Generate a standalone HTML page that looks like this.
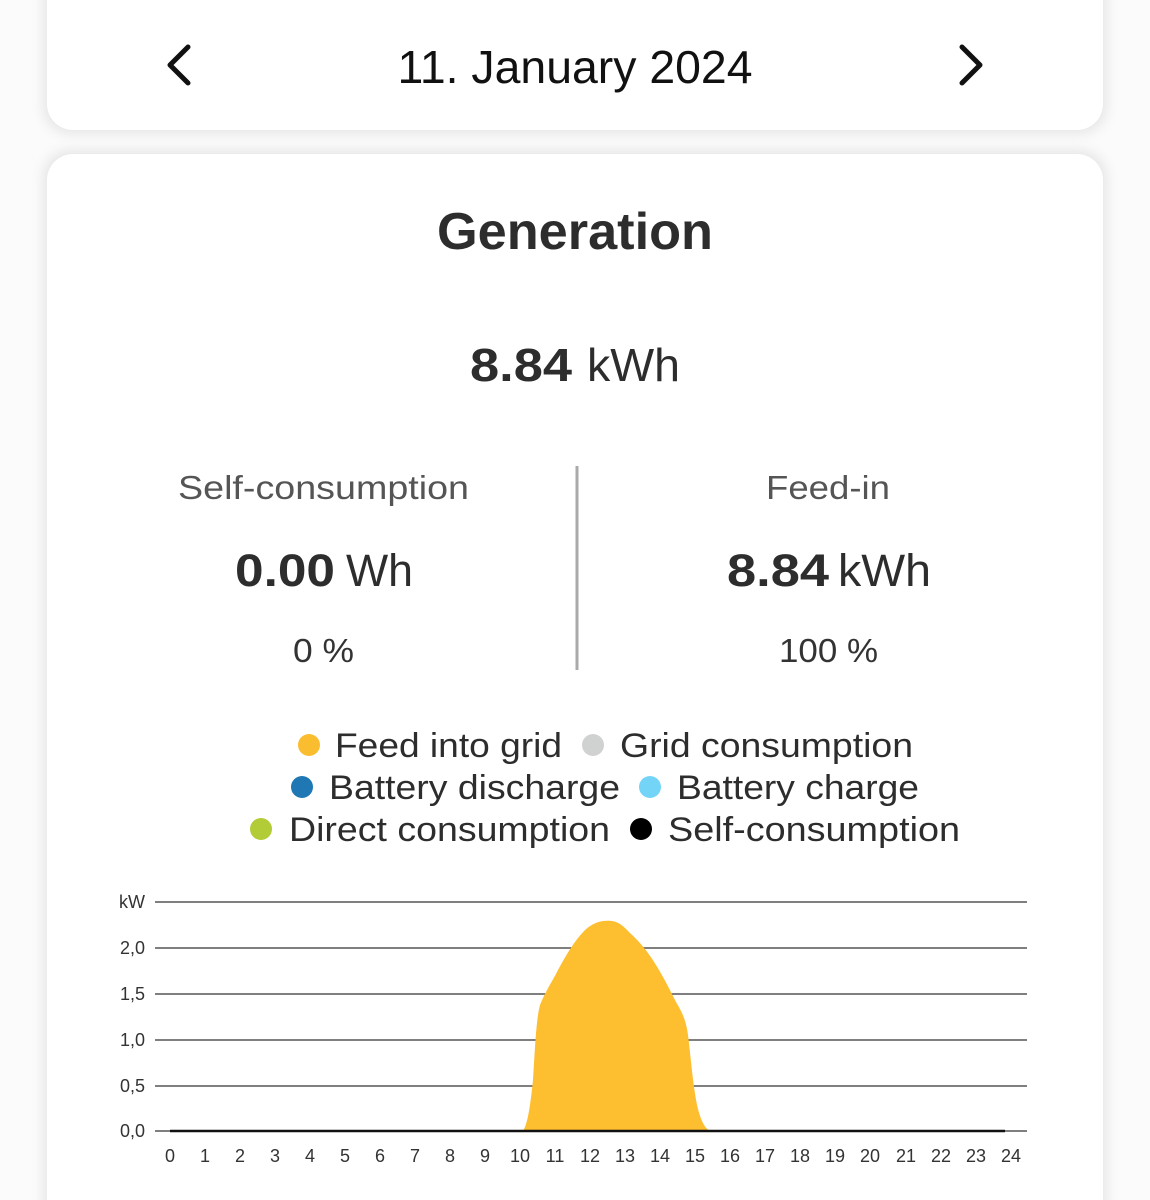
<!DOCTYPE html>
<html><head><meta charset="utf-8"><style>
html,body{margin:0;padding:0;background:#f5f5f5;width:1150px;height:1200px;overflow:hidden}
svg{display:block}
text{font-family:"Liberation Sans",sans-serif}
</style></head><body>
<svg width="1150" height="1200" viewBox="0 0 1150 1200" xmlns="http://www.w3.org/2000/svg">
<defs>
<filter id="sh" x="-5%" y="-5%" width="110%" height="110%"><feGaussianBlur stdDeviation="6"/></filter>
</defs>
<rect x="0" y="0" width="1150" height="1200" fill="#fbfbfb"/>
<rect x="43" y="-40" width="1064" height="174" rx="28" fill="#e6e6e6" filter="url(#sh)"/>
<rect x="43" y="150" width="1064" height="1100" rx="28" fill="#e6e6e6" filter="url(#sh)"/>
<rect x="47" y="-40" width="1056" height="170" rx="26" fill="#fff"/>
<rect x="47" y="154" width="1056" height="1100" rx="26" fill="#fff"/>

<polyline points="188,47 170,65 188,83" fill="none" stroke="#111" stroke-width="5" stroke-linecap="round" stroke-linejoin="round"/>
<polyline points="962,47 980,65 962,83" fill="none" stroke="#111" stroke-width="5" stroke-linecap="round" stroke-linejoin="round"/>
<text x="575" y="83" text-anchor="middle" font-size="46" fill="#111" textLength="355" lengthAdjust="spacingAndGlyphs">11. January 2024</text>

<text x="575" y="249" text-anchor="middle" font-size="52" font-weight="bold" fill="#2d2d2d" textLength="276" lengthAdjust="spacingAndGlyphs">Generation</text>

<text x="470" y="381" font-size="46" font-weight="bold" fill="#2d2d2d" textLength="102" lengthAdjust="spacingAndGlyphs">8.84</text>
<text x="587" y="381" font-size="46" fill="#2d2d2d" textLength="93" lengthAdjust="spacingAndGlyphs">kWh</text>

<text x="178" y="499" font-size="33" fill="#555" textLength="291" lengthAdjust="spacingAndGlyphs">Self-consumption</text>
<text x="766" y="499" font-size="33" fill="#555" textLength="124" lengthAdjust="spacingAndGlyphs">Feed-in</text>
<line x1="577" y1="466" x2="577" y2="670" stroke="#aaa" stroke-width="3"/>
<text x="235" y="586" font-size="45" font-weight="bold" fill="#2d2d2d" textLength="100" lengthAdjust="spacingAndGlyphs">0.00</text>
<text x="346" y="586" font-size="45" fill="#2d2d2d" textLength="67" lengthAdjust="spacingAndGlyphs">Wh</text>
<text x="727" y="586" font-size="45" font-weight="bold" fill="#2d2d2d" textLength="102" lengthAdjust="spacingAndGlyphs">8.84</text>
<text x="838" y="586" font-size="45" fill="#2d2d2d" textLength="93" lengthAdjust="spacingAndGlyphs">kWh</text>
<text x="293" y="662" font-size="33" fill="#333" textLength="61" lengthAdjust="spacingAndGlyphs">0 %</text>
<text x="779" y="662" font-size="33" fill="#333" textLength="99" lengthAdjust="spacingAndGlyphs">100 %</text>

<g font-size="34" fill="#2d2d2d">
<circle cx="309" cy="745" r="11" fill="#fbbd30"/>
<text x="335" y="757" textLength="227" lengthAdjust="spacingAndGlyphs">Feed into grid</text>
<circle cx="593" cy="745" r="11" fill="#d0d1d1"/>
<text x="620" y="757" textLength="293" lengthAdjust="spacingAndGlyphs">Grid consumption</text>
<circle cx="302" cy="787" r="11" fill="#1f78b4"/>
<text x="329" y="799" textLength="291" lengthAdjust="spacingAndGlyphs">Battery discharge</text>
<circle cx="650" cy="787" r="11" fill="#74d4f8"/>
<text x="677" y="799" textLength="242" lengthAdjust="spacingAndGlyphs">Battery charge</text>
<circle cx="261" cy="829" r="11" fill="#b2cc38"/>
<text x="289" y="841" textLength="321" lengthAdjust="spacingAndGlyphs">Direct consumption</text>
<circle cx="641" cy="829" r="11" fill="#000"/>
<text x="668" y="841" textLength="292" lengthAdjust="spacingAndGlyphs">Self-consumption</text>
</g>

<g stroke="#555" stroke-width="1.5">
<line x1="155" y1="902" x2="1027" y2="902"/>
<line x1="155" y1="948" x2="1027" y2="948"/>
<line x1="155" y1="994" x2="1027" y2="994"/>
<line x1="155" y1="1040" x2="1027" y2="1040"/>
<line x1="155" y1="1086" x2="1027" y2="1086"/>
<line x1="155" y1="1131" x2="1027" y2="1131"/>
</g>
<path d="M523,1131 C527,1125 530,1110 533,1080 C535,1050 536,1020 540,1005 C546,990 552,982 558,970 C566,955 575,940 585,930 C594,922 602,920 612,921 C620,922 625,928 630,933 C640,942 648,952 656,965 C664,978 670,990 676,1002 C682,1012 686,1020 688,1035 C691,1060 693,1085 697,1105 C701,1122 705,1128 710,1131 Z" fill="#fdbe30"/>
<line x1="170" y1="1131" x2="1005" y2="1131" stroke="#111" stroke-width="2.5"/>

<g font-size="18" fill="#333" text-anchor="end">
<text x="145" y="908">kW</text>
<text x="145" y="954">2,0</text>
<text x="145" y="1000">1,5</text>
<text x="145" y="1046">1,0</text>
<text x="145" y="1092">0,5</text>
<text x="145" y="1137">0,0</text>
</g>
<g font-size="18" fill="#333" text-anchor="middle">
<text x="170" y="1162">0</text><text x="205" y="1162">1</text><text x="240" y="1162">2</text><text x="275" y="1162">3</text><text x="310" y="1162">4</text><text x="345" y="1162">5</text><text x="380" y="1162">6</text><text x="415" y="1162">7</text><text x="450" y="1162">8</text><text x="485" y="1162">9</text><text x="520" y="1162">10</text><text x="555" y="1162">11</text><text x="590" y="1162">12</text><text x="625" y="1162">13</text><text x="660" y="1162">14</text><text x="695" y="1162">15</text><text x="730" y="1162">16</text><text x="765" y="1162">17</text><text x="800" y="1162">18</text><text x="835" y="1162">19</text><text x="870" y="1162">20</text><text x="906" y="1162">21</text><text x="941" y="1162">22</text><text x="976" y="1162">23</text><text x="1011" y="1162">24</text>
</g>
</svg>
</body></html>
